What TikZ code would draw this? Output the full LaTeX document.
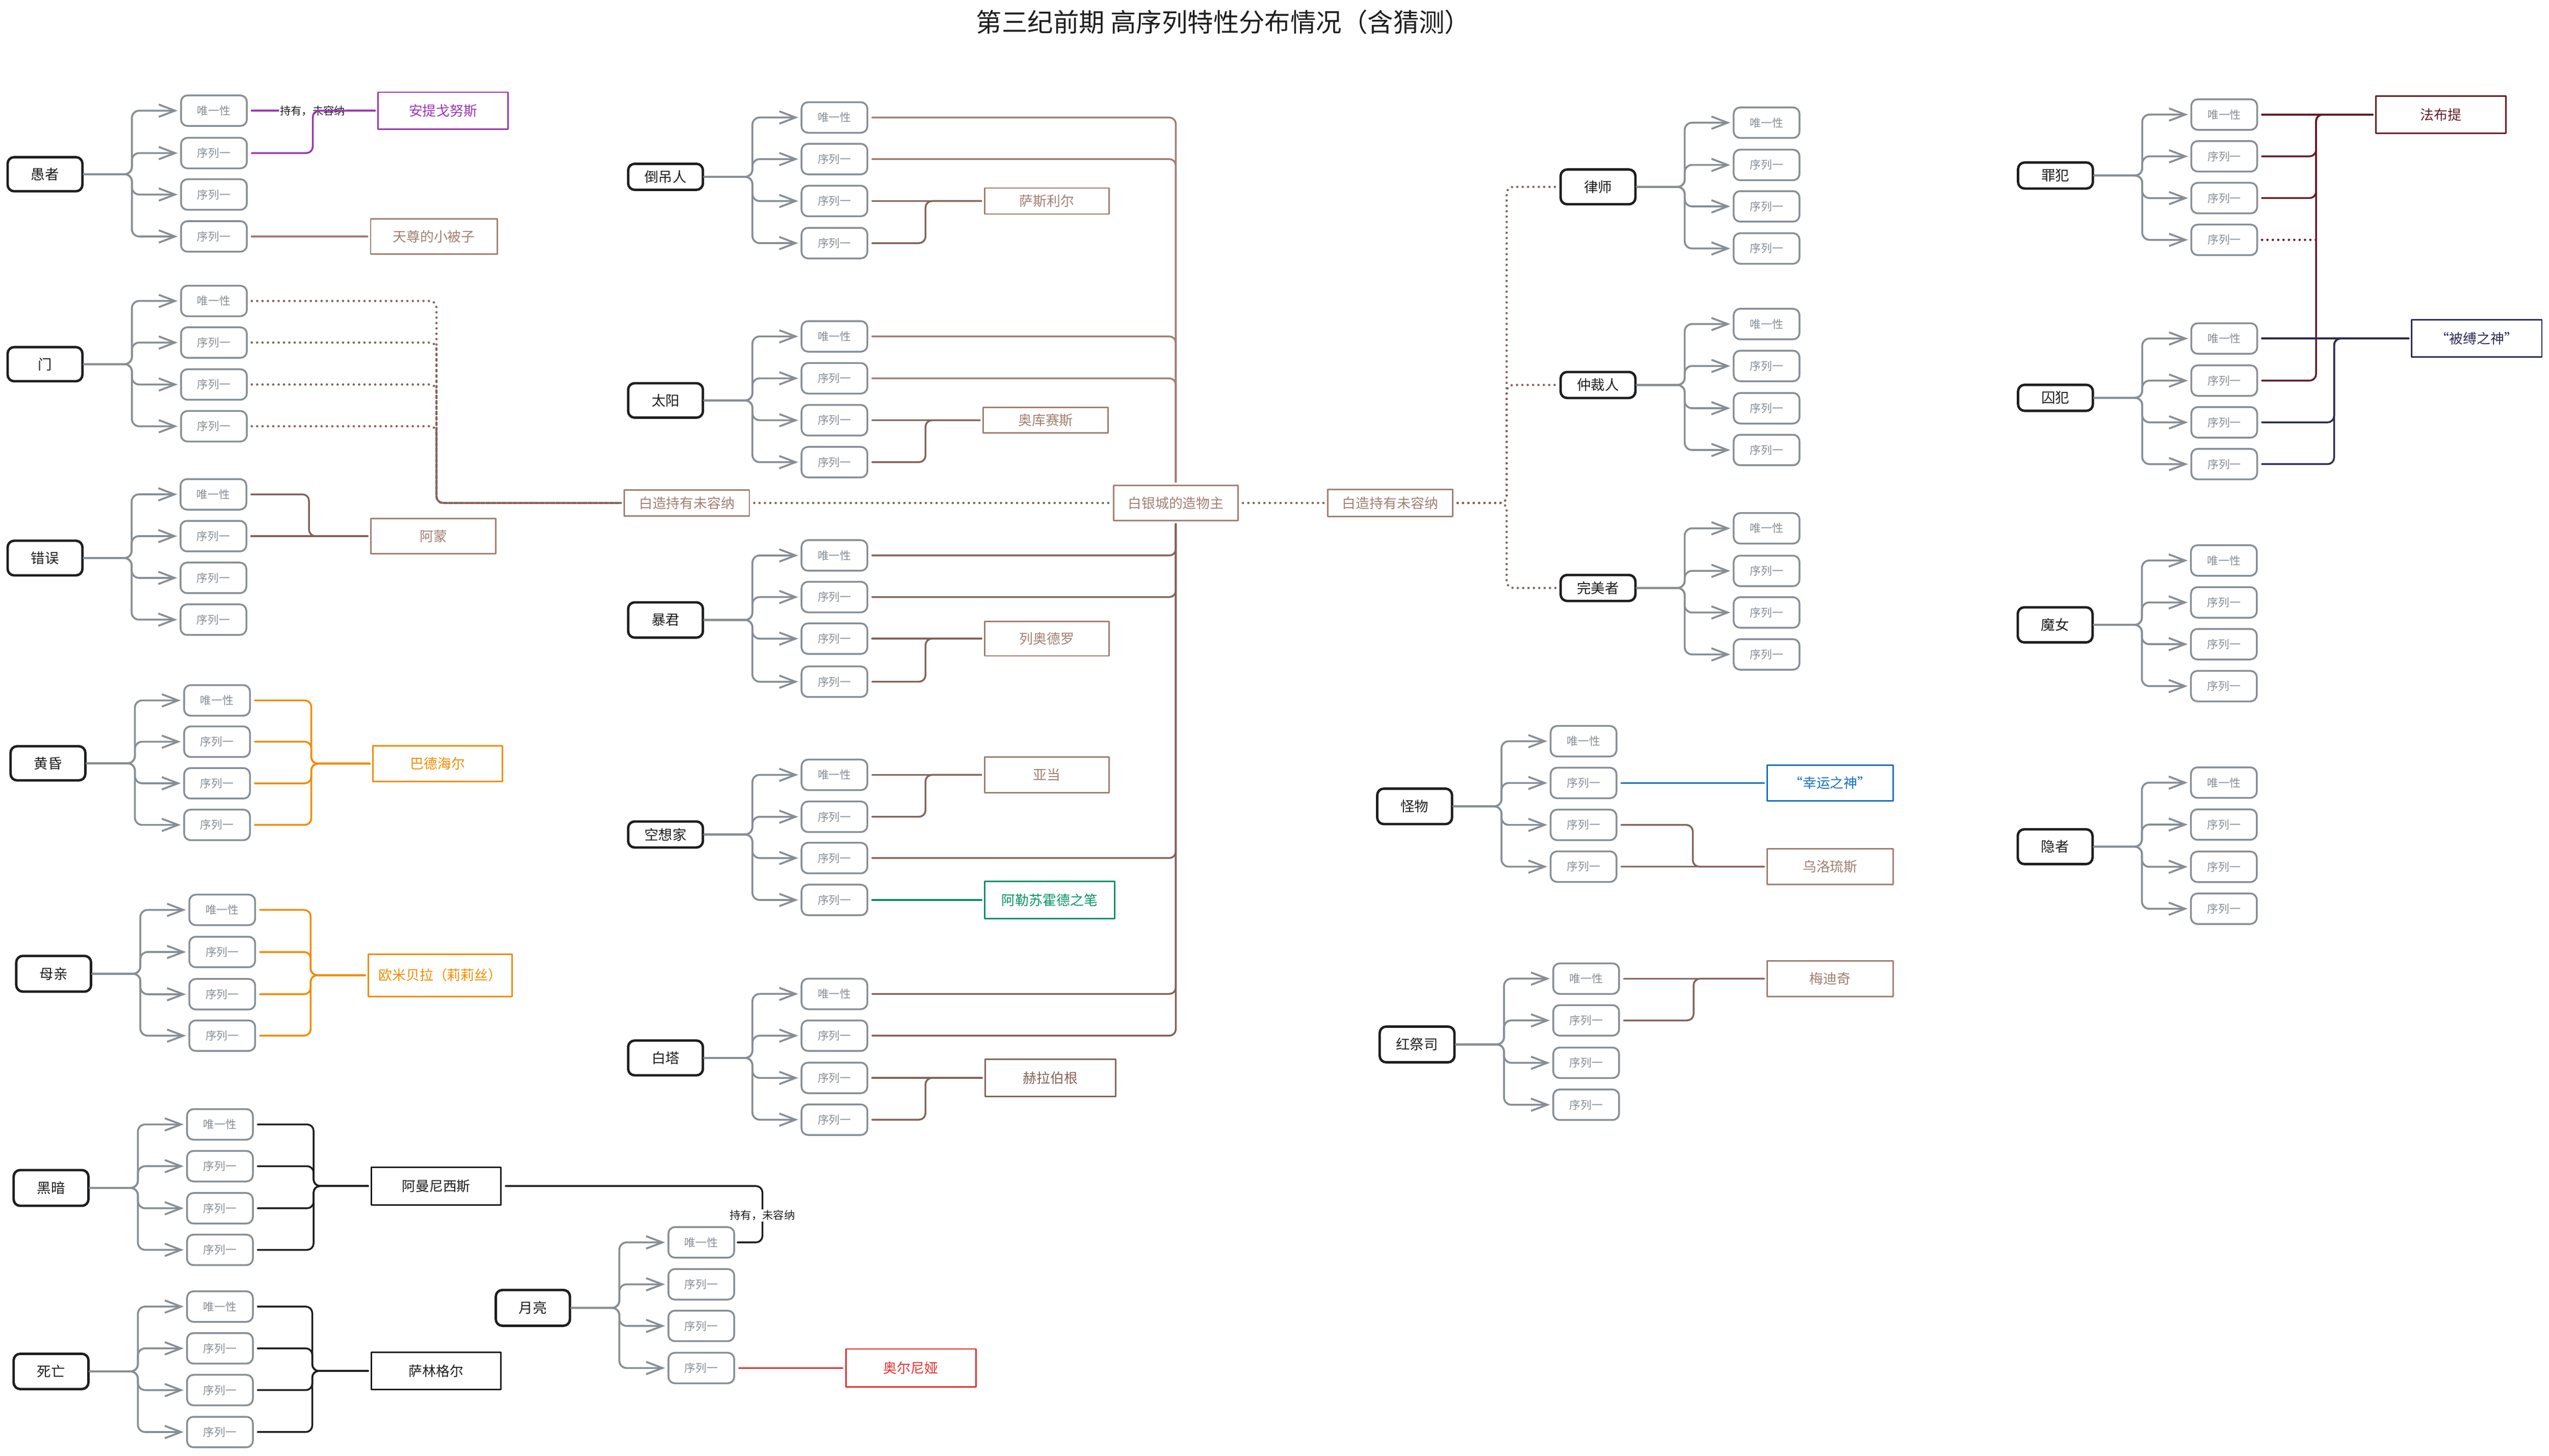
\documentclass[tikz,border=0pt]{standalone}
\usepackage{fontspec}
\setmainfont{Noto Sans CJK SC}
\usetikzlibrary{arrows.meta,calc}
\definecolor{ink}{HTML}{1E1E1E}
\definecolor{grayc}{HTML}{868E96}
\definecolor{brownL}{HTML}{A18072}
\definecolor{brownD}{HTML}{846358}
\definecolor{purp}{HTML}{9C36B5}
\definecolor{oran}{HTML}{F08C00}
\definecolor{grn}{HTML}{099268}
\definecolor{redc}{HTML}{E03131}
\definecolor{bluec}{HTML}{1971C2}
\definecolor{wine}{HTML}{641C26}
\definecolor{navy}{HTML}{2C2D54}
\newcommand\fsSeq{\fontsize{19.5pt}{22pt}\selectfont}
\newcommand\fsCat{\fontsize{24.5pt}{27pt}\selectfont}
\newcommand\fsTgt{\fontsize{24pt}{27pt}\selectfont}
\newcommand\fsTitle{\fontsize{45pt}{50pt}\selectfont}
\newcommand\fsLbl{\fontsize{19pt}{21pt}\selectfont}
\tikzset{
  catbox/.style={draw=ink, line width=1.5mm, rounded corners=4mm, fill=white, minimum width=46mm, minimum height=21mm, inner sep=0pt, font=\fsCat, text=ink},
  seqbox/.style={draw=grayc, line width=1.1mm, rounded corners=4mm, fill=white, minimum width=40.5mm, minimum height=18.8mm, inner sep=0pt, font=\fsSeq, text=grayc},
  tgt/.style={draw=#1, text=#1, line width=0.9mm, fill=white, minimum width=77mm, minimum height=21.5mm, inner sep=0pt, font=\fsTgt},
  fan/.style={draw=grayc, line width=1.15mm, rounded corners=4.5mm, -{Straight Barb[length=10mm,width=7.6mm]}, shorten >=1.5mm},
  link/.style={draw=#1, line width=1.1mm, rounded corners=4mm, shorten <=2.4mm, shorten >=1.5mm},
  dotl/.style={draw=#1, line width=1.45mm, dash pattern=on 0pt off 3.3mm, line cap=round, rounded corners=4mm, shorten <=2.5mm, shorten >=1.5mm},
  lbl/.style={fill=white, text=ink, font=\fsLbl, inner sep=0.6mm},
}
\newcommand\fanline[2]{\draw[fan] let \p1=(#1.east), \p2=(#2.west) in (\p1) -- ({0.5*(\x1+\x2)},\y1) -- ({0.5*(\x1+\x2)},\y2) -- (\p2);}
\newcommand\seqgroup[6]{%
  \node[seqbox] (#1a) at (#2,#3) {唯一性};
  \node[seqbox] (#1b) at (#2,#4) {序列一};
  \node[seqbox] (#1c) at (#2,#5) {序列一};
  \node[seqbox] (#1d) at (#2,#6) {序列一};
  \foreach \k in {a,b,c,d}{\fanline{#1}{#1\k}}%
}
\newcommand\elb[4]{\draw[#1] (#2.east) -- (#2.east -| #3) |- (#4.west);}
\newcommand\strline[3]{\draw[#1] (#2.east) -- (#2.east -| #3.west);}
\begin{document}
\begin{tikzpicture}[x=1mm,y=-1mm,line cap=round,line join=round]
\fill[white] (0,0) rectangle (1568,895.7);
\useasboundingbox (0,0) rectangle (1568,895.7);

\node[font=\fsTitle, text=ink] (title) at (752.5,13.5) {第三纪前期 高序列特性分布情况（含猜测）};

% ---------- left column ----------
\node[catbox,minimum height=21mm] (yz) at (27.7,107.2) {愚者};
\seqgroup{yz}{131.6}{68.1}{94.2}{119.7}{145.5}
\node[catbox,minimum height=21mm] (men) at (27.7,224.1) {门};
\seqgroup{men}{131.6}{185.2}{210.8}{236.6}{262.3}
\node[catbox,minimum height=21.3mm] (cw) at (27.7,343.4) {错误};
\seqgroup{cw}{131.3}{304.2}{329.9}{355.6}{381.3}
\node[catbox,minimum height=21mm] (hh) at (29.5,469.7) {黄昏};
\seqgroup{hh}{133.5}{431}{456.4}{482}{507.6}
\node[catbox,minimum height=22mm] (mq) at (33,599.2) {母亲};
\seqgroup{mq}{136.7}{559.9}{585.8}{611.8}{637.3}
\node[catbox,minimum height=22mm] (ha) at (31.4,731) {黑暗};
\seqgroup{ha}{135.3}{691.9}{717.6}{743.5}{769.1}
\node[catbox,minimum height=21.7mm] (sw) at (31.4,843.9) {死亡};
\seqgroup{sw}{135.3}{804}{829.7}{855.4}{881.2}
\node[catbox,minimum height=22mm,minimum width=45.6mm] (yl) at (327.8,804.8) {月亮};
\seqgroup{yl}{431.4}{764.5}{790.3}{815.9}{841.8}

% ---------- center column ----------
\node[catbox,minimum height=16mm] (dd) at (409.4,108.8) {倒吊人};
\seqgroup{dd}{513.3}{72.3}{97.9}{123.7}{149.6}
\node[catbox,minimum height=21.2mm] (ty) at (409.4,246.4) {太阳};
\seqgroup{ty}{513.3}{207}{232.8}{258.6}{284.4}
\node[catbox,minimum height=21.7mm] (bj) at (409.4,381.5) {暴君};
\seqgroup{bj}{513.3}{341.8}{367.4}{393}{419.5}
\node[catbox,minimum height=16mm] (kx) at (409.4,513.5) {空想家};
\seqgroup{kx}{513.3}{476.8}{502.6}{528}{553.8}
\node[catbox,minimum height=21.4mm] (bt) at (409.4,651) {白塔};
\seqgroup{bt}{513.3}{611.6}{637.3}{663.3}{689}

% ---------- right-center ----------
\node[catbox,minimum height=21.4mm] (ls) at (983,115) {律师};
\seqgroup{ls}{1086.7}{75.5}{101.5}{127}{152.9}
\node[catbox,minimum height=16mm] (zc) at (983,236.9) {仲裁人};
\seqgroup{zc}{1086.7}{199.4}{225.2}{251.2}{276.9}
\node[catbox,minimum height=16mm] (wm) at (983,361.8) {完美者};
\seqgroup{wm}{1086.7}{325.1}{351.3}{376.9}{402.7}
\node[catbox,minimum height=21.8mm] (gw) at (870.2,496.2) {怪物};
\seqgroup{gw}{974.1}{456.1}{481.8}{507.6}{533.3}
\node[catbox,minimum height=22mm] (hjs) at (871.7,642.7) {红祭司};
\seqgroup{hjs}{975.7}{602.2}{627.9}{654}{679.8}

% ---------- right column ----------
\node[catbox,minimum height=16mm] (zf) at (1264.4,108) {罪犯};
\seqgroup{zf}{1368.2}{70.5}{96.2}{121.9}{147.6}
\node[catbox,minimum height=16mm] (qf) at (1264.4,244.8) {囚犯};
\seqgroup{qf}{1368.2}{208.3}{234.2}{259.9}{285.6}
\node[catbox,minimum height=21.6mm] (mn) at (1264.2,384.5) {魔女};
\seqgroup{mn}{1368}{344.9}{370.7}{396.4}{422.2}
\node[catbox,minimum height=21.4mm] (yzh) at (1264.2,521) {隐者};
\seqgroup{yzh}{1368}{481.6}{507.4}{533.4}{559.2}

% ---------- targets ----------
\node[tgt=purp, minimum width=80mm, minimum height=22.7mm] (ant) at (272.6,68.1) {安提戈努斯};
\node[tgt=brownL, minimum width=77.8mm, minimum height=21.4mm] (tz) at (266.9,145.5) {天尊的小被子};
\node[tgt=brownL, minimum width=77mm, minimum height=21.5mm] (am) at (266.6,329.9) {阿蒙};
\node[tgt=oran, minimum width=79.6mm, minimum height=22mm] (bdh) at (269.3,469.9) {巴德海尔};
\node[tgt=oran, minimum width=88.5mm, minimum height=26mm] (omb) at (270.8,600.1) {欧米贝拉（莉莉丝）};
\node[tgt=ink, minimum width=79.7mm, minimum height=23.2mm] (amn) at (268.3,729.8) {阿曼尼西斯};
\node[tgt=ink, minimum width=79.7mm, minimum height=22.8mm] (slg) at (268.3,843.6) {萨林格尔};
\node[tgt=redc, minimum width=80mm, minimum height=23.4mm] (aen) at (560.3,841.8) {奥尔尼娅};

\node[tgt=brownL, minimum width=76.7mm, minimum height=16mm] (ssl) at (644,123.7) {萨斯利尔};
\node[tgt=brownL, minimum width=77mm, minimum height=15.6mm] (aks) at (643.2,258.6) {奥库赛斯};
\node[tgt=brownL, minimum width=76.7mm, minimum height=21.2mm] (lad) at (644,393) {列奥德罗};
\node[tgt=brownL, minimum width=76.7mm, minimum height=21.9mm] (ya) at (644,476.8) {亚当};
\node[tgt=grn, minimum width=80mm, minimum height=23mm] (alsh) at (645.7,553.8) {阿勒苏霍德之笔};
\node[tgt=brownD, minimum width=80.3mm, minimum height=23mm] (hlbg) at (646.2,663.3) {赫拉伯根};
\node[tgt=brownL, minimum width=77mm, minimum height=16mm] (bzL) at (422.5,309.5) {白造持有未容纳};
\node[tgt=brownL, minimum width=76.7mm, minimum height=21.8mm] (byc) at (723.3,309.5) {白银城的造物主};
\node[tgt=brownL, minimum width=77mm, minimum height=16.5mm] (bzR) at (855.2,309.5) {白造持有未容纳};

\node[tgt=bluec, minimum width=77.3mm, minimum height=21.8mm] (xy) at (1125.8,481.8) {“幸运之神”};
\node[tgt=brownL, minimum width=77.3mm, minimum height=21.8mm] (wll) at (1125.8,533.3) {乌洛琉斯};
\node[tgt=brownL, minimum width=77.3mm, minimum height=21.8mm] (mdq) at (1125.8,602.2) {梅迪奇};
\node[tgt=wine, minimum width=80mm, minimum height=23mm] (fbt) at (1501.5,70.5) {法布提};
\node[tgt=navy, minimum width=80mm, minimum height=22.8mm] (bfz) at (1523.6,208.3) {“被缚之神”};

% ---------- vertical guide coordinates ----------
\coordinate (vP) at (192.4,0);
\coordinate (vD) at (268.5,0);
\coordinate (vA) at (190.1,0);
\coordinate (vH) at (191.5,0);
\coordinate (vM) at (191.1,0);
\coordinate (vK) at (192.9,0);
\coordinate (vS) at (192.1,0);
\coordinate (vL) at (469,0);
\coordinate (vC) at (569.3,0);
\coordinate (vR) at (926.8,0);
\coordinate (vW) at (1041.3,0);
\coordinate (vQ) at (1041.8,0);
\coordinate (vF) at (1424.7,0);
\coordinate (vN) at (1435.8,0);
\coordinate (zfdEnd) at (1424.7,147.6);

% ---------- links: left ----------
\draw[link=purp] (yza.east) -- (yza.east -| ant.west) node[lbl,midway] (lbl1) {持有，未容纳};
\elb{link=purp}{yzb}{vP}{ant}
\strline{link=brownL}{yzd}{tz}
\foreach \k in {a,b,c,d}{\elb{dotl=brownD}{men\k}{vD}{bzL}}
\elb{link=brownD}{cwa}{vA}{am}
\strline{link=brownD}{cwb}{am}
\foreach \k in {a,b,c,d}{\elb{link=oran}{hh\k}{vH}{bdh}}
\foreach \k in {a,b,c,d}{\elb{link=oran}{mq\k}{vM}{omb}}
\foreach \k in {a,b,c,d}{\elb{link=ink}{ha\k}{vK}{amn}}
\foreach \k in {a,b,c,d}{\elb{link=ink}{sw\k}{vS}{slg}}
\draw[link=ink] (amn.east) -- (amn.east -| vL) |- (yla.east);
\node[lbl] (lbl2) at (469,747.8) {持有，未容纳};
\strline{link=redc}{yld}{aen}

% ---------- links: center ----------
\foreach \k in {a,b}{\draw[link=brownL] (dd\k.east) -| (byc.north);}
\foreach \k in {a,b}{\draw[link=brownL] (ty\k.east) -| (byc.north);}
\foreach \k in {a,b}{\draw[link=brownD] (bj\k.east) -| (byc.south);}
\draw[link=brownD] (kxc.east) -| (byc.south);
\foreach \k in {a,b}{\draw[link=brownD] (bt\k.east) -| (byc.south);}
\strline{link=brownD}{ddc}{ssl}
\elb{link=brownD}{ddd}{vC}{ssl}
\strline{link=brownD}{tyc}{aks}
\elb{link=brownD}{tyd}{vC}{aks}
\strline{link=brownD}{bjc}{lad}
\elb{link=brownD}{bjd}{vC}{lad}
\strline{link=brownD}{kxa}{ya}
\elb{link=brownD}{kxb}{vC}{ya}
\strline{link=grn}{kxd}{alsh}
\strline{link=brownD}{btc}{hlbg}
\elb{link=brownD}{btd}{vC}{hlbg}

\draw[dotl=brownD] (bzL.east) -- (byc.west);
\draw[dotl=brownD] (byc.east) -- (bzR.west);
\foreach \t in {ls,zc,wm}{\draw[dotl=brownD] (bzR.east) -- (bzR.east -| vR) |- (\t.west);}

% ---------- links: right-center ----------
\strline{link=bluec}{gwb}{xy}
\elb{link=brownD}{gwc}{vW}{wll}
\strline{link=brownD}{gwd}{wll}
\strline{link=brownD}{hjsa}{mdq}
\elb{link=brownD}{hjsb}{vQ}{mdq}

% ---------- links: right ----------
\strline{link=wine}{zfa}{fbt}
\elb{link=wine}{zfb}{vF}{fbt}
\elb{link=wine}{zfc}{vF}{fbt}
\elb{link=wine}{qfb}{vF}{fbt}
\draw[dotl=wine, shorten >=0pt] (zfd.east) -- (zfdEnd);
\strline{link=navy}{qfa}{bfz}
\elb{link=navy}{qfc}{vN}{bfz}
\elb{link=navy}{qfd}{vN}{bfz}
\end{tikzpicture}
\end{document}
